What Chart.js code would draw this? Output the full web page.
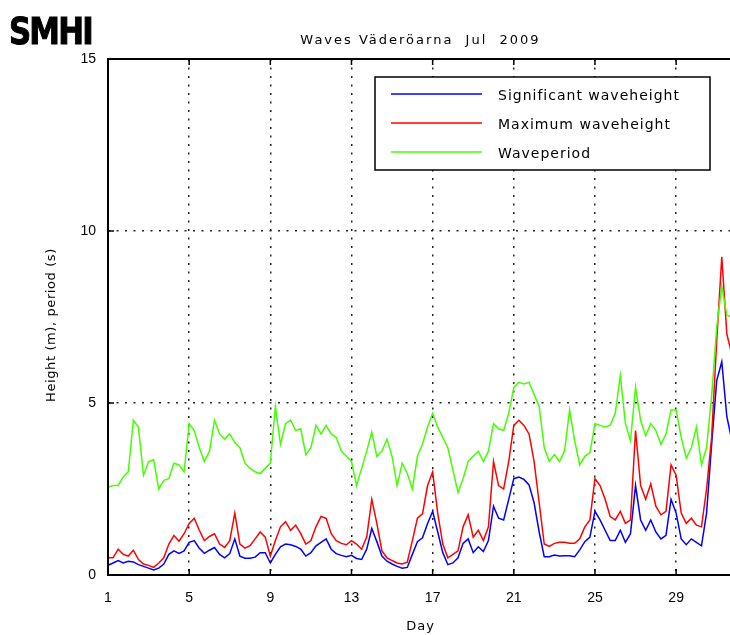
<!DOCTYPE html>
<html>
<head>
<meta charset="utf-8">
<script src="https://cdn.jsdelivr.net/npm/chart.js@4.4.0/dist/chart.umd.min.js"></script>
<style>
  html, body { margin: 0; padding: 0; background: #fff; overflow: hidden; width: 730px; height: 635px; }
  #wrap { position: relative; width: 760px; height: 635px; }
  #logo { position: absolute; left: 9px; top: 12px; font-family: "DejaVu Sans Condensed", "DejaVu Sans", sans-serif; font-weight: bold; font-size: 38px; line-height: 38px; letter-spacing: -2px; color: #000; transform: scaleX(0.9); transform-origin: left top; -webkit-text-stroke: 1px #000; }
</style>
</head>
<body>
<div id="wrap">
  <canvas id="wavesChart"></canvas>
  <div id="logo">SMHI</div>
</div>
<script>
// Titel och axlar
const chartTitle = "Waves Väderöarna  Jul  2009";
const xTitle = "Day";
const yTitle = "Height (m), period (s)";
const xTicks = [1, 5, 9, 13, 17, 21, 25, 29];
const yTicks = [0, 5, 10, 15];

// Tidpunkter (dag i juli), var 6:e timme
const days = Array.from({ length: 124 }, (_, i) => 1 + i * 0.25);

// Signifikant våghöjd (m)
const sigHeight = [
  0.28, 0.35, 0.42, 0.35, 0.40, 0.38, 0.30, 0.25, 0.20, 0.15, 0.20, 0.32,
  0.60, 0.70, 0.63, 0.70, 0.95, 1.00, 0.78, 0.63, 0.72, 0.80, 0.60, 0.50,
  0.62, 1.05, 0.55, 0.49, 0.49, 0.52, 0.65, 0.65, 0.35, 0.60, 0.82, 0.90,
  0.88, 0.83, 0.75, 0.55, 0.65, 0.85, 0.95, 1.05, 0.75, 0.62, 0.57, 0.53,
  0.57, 0.48, 0.45, 0.75, 1.35, 0.97, 0.55, 0.40, 0.32, 0.25, 0.20, 0.22,
  0.60, 0.97, 1.08, 1.50, 1.85, 1.25, 0.65, 0.30, 0.35, 0.50, 0.92, 1.05,
  0.65, 0.82, 0.68, 1.00, 2.00, 1.65, 1.60, 2.20, 2.80, 2.85, 2.78, 2.62,
  2.10, 1.25, 0.53, 0.53, 0.58, 0.55, 0.56, 0.56, 0.53, 0.73, 0.97, 1.10,
  1.85, 1.60, 1.30, 1.00, 1.00, 1.30, 0.95, 1.20, 2.60, 1.60, 1.30, 1.60,
  1.25, 1.05, 1.15, 2.20, 1.80, 1.05, 0.88, 1.05, 0.95, 0.85, 1.80, 3.80,
  5.65, 6.20, 4.60, 3.90
];

// Maximal våghöjd (m)
const maxHeight = [
  0.50, 0.50, 0.75, 0.60, 0.55, 0.72, 0.45, 0.32, 0.28, 0.22, 0.35, 0.50,
  0.90, 1.15, 0.98, 1.20, 1.50, 1.65, 1.30, 1.00, 1.12, 1.20, 0.90, 0.80,
  1.00, 1.80, 0.90, 0.78, 0.85, 1.05, 1.25, 1.10, 0.55, 1.00, 1.40, 1.55,
  1.30, 1.45, 1.20, 0.90, 1.00, 1.40, 1.70, 1.65, 1.20, 1.00, 0.92, 0.88,
  1.00, 0.90, 0.75, 1.10, 2.20, 1.50, 0.70, 0.50, 0.42, 0.35, 0.32, 0.37,
  1.00, 1.65, 1.78, 2.60, 3.00, 1.80, 0.90, 0.50, 0.60, 0.70, 1.40, 1.75,
  1.10, 1.30, 1.00, 1.40, 3.30, 2.60, 2.50, 3.30, 4.35, 4.50, 4.35, 4.10,
  3.30, 2.10, 0.90, 0.83, 0.92, 0.95, 0.95, 0.92, 0.92, 1.05, 1.40, 1.60,
  2.80, 2.60, 2.20, 1.70, 1.60, 1.85, 1.50, 1.60, 4.20, 2.60, 2.20, 2.65,
  2.00, 1.75, 1.85, 3.20, 2.90, 1.80, 1.50, 1.65, 1.45, 1.40, 2.50, 4.00,
  6.80, 9.25, 7.00, 6.40
];

// Vågperiod (s)
const wavePeriod = [
  2.55, 2.60, 2.60, 2.85, 3.00, 4.50, 4.30, 2.90, 3.30, 3.35, 2.50, 2.75,
  2.80, 3.25, 3.20, 3.00, 4.40, 4.20, 3.70, 3.30, 3.60, 4.50, 4.10, 3.95,
  4.10, 3.85, 3.70, 3.25, 3.10, 3.00, 2.95, 3.10, 3.25, 4.90, 3.80, 4.40,
  4.50, 4.20, 4.25, 3.50, 3.70, 4.35, 4.10, 4.35, 4.10, 4.00, 3.60, 3.45,
  3.30, 2.60, 3.10, 3.60, 4.15, 3.45, 3.60, 3.95, 3.45, 2.60, 3.25, 2.95,
  2.50, 3.45, 3.80, 4.30, 4.70, 4.30, 4.00, 3.70, 3.05, 2.40, 2.80, 3.30,
  3.45, 3.60, 3.30, 3.60, 4.40, 4.25, 4.20, 4.70, 5.45, 5.60, 5.55, 5.60,
  5.25, 4.90, 3.70, 3.30, 3.50, 3.30, 3.60, 4.80, 3.90, 3.20, 3.45, 3.55,
  4.40, 4.35, 4.30, 4.35, 4.70, 5.80, 4.40, 3.90, 5.45, 4.50, 4.05, 4.40,
  4.20, 3.80, 4.10, 4.80, 4.80, 4.00, 3.40, 3.70, 4.30, 3.20, 3.70, 5.20,
  7.20, 8.40, 7.55, 7.50
];

const seriesNames = ["Significant waveheight", "Maximum waveheight", "Waveperiod"];
const seriesColors = ["#0000ff", "#ff0000", "#44ff00"];

function toPoints(values) {
  return values.map((v, i) => ({ x: days[i], y: v }));
}

// Ram, inåtvända streck, förklaring och titlar
const framePlugin = {
  id: "framePlugin",
  afterDraw(chart) {
    const { ctx, chartArea: a, scales } = chart;
    const x = scales.x, y = scales.y;
    ctx.save();
    ctx.strokeStyle = "#000";
    ctx.lineWidth = 1.5;
    ctx.beginPath();
    xTicks.forEach(v => {
      const px = x.getPixelForValue(v);
      ctx.moveTo(px, a.bottom); ctx.lineTo(px, a.bottom - 6);
      ctx.moveTo(px, a.top); ctx.lineTo(px, a.top + 6);
    });
    yTicks.forEach(v => {
      const py = y.getPixelForValue(v);
      ctx.moveTo(a.left, py); ctx.lineTo(a.left + 6, py);
    });
    ctx.stroke();
    ctx.lineWidth = 2;
    ctx.strokeRect(a.left, a.top, a.right - a.left, a.bottom - a.top);

    // förklaring
    const lx = 375, ly = 77, lw = 335, lh = 93;
    ctx.fillStyle = "#fff";
    ctx.fillRect(lx, ly, lw, lh);
    ctx.lineWidth = 1.5;
    ctx.strokeRect(lx, ly, lw, lh);
    ctx.font = '14px "DejaVu Sans"';
    ctx.letterSpacing = "1px";
    ctx.textAlign = "left";
    ctx.textBaseline = "middle";
    seriesNames.forEach((name, i) => {
      const rowY = ly + 19 + i * 29;
      ctx.strokeStyle = seriesColors[i];
      ctx.beginPath();
      ctx.moveTo(lx + 16, rowY - 2); ctx.lineTo(lx + 107, rowY - 2);
      ctx.stroke();
      ctx.fillStyle = "#000";
      ctx.fillText(name, lx + 123, rowY);
    });

    // titlar
    ctx.fillStyle = "#000";
    ctx.textAlign = "center";
    ctx.font = '13px "DejaVu Sans"';
    ctx.letterSpacing = "2px";
    ctx.fillText(chartTitle, (a.left + a.right) / 2 - 2, 41);
    ctx.letterSpacing = "1px";
    ctx.fillText(xTitle, (a.left + a.right) / 2 - 2, 627);
    ctx.letterSpacing = "0.6px";
    ctx.translate(52, (a.top + a.bottom) / 2 + 8);
    ctx.rotate(-Math.PI / 2);
    ctx.fillText(yTitle, 0, 0);
    ctx.restore();
  }
};

new Chart(document.getElementById("wavesChart"), {
  type: "line",
  data: {
    datasets: [
      { label: seriesNames[0], data: toPoints(sigHeight), borderColor: seriesColors[0], order: 3 },
      { label: seriesNames[1], data: toPoints(maxHeight), borderColor: seriesColors[1], order: 2 },
      { label: seriesNames[2], data: toPoints(wavePeriod), borderColor: seriesColors[2], order: 1 }
    ]
  },
  options: {
    responsive: true,
    maintainAspectRatio: false,
    animation: false,
    parsing: false,
    layout: { padding: { top: 59, right: 23, left: 0, bottom: 0 } },
    elements: {
      line: { borderWidth: 1.5, tension: 0 },
      point: { radius: 0 }
    },
    plugins: {
      legend: { display: false },
      title: { display: false },
      tooltip: { enabled: false }
    },
    scales: {
      x: {
        type: "linear",
        min: 1,
        max: 32,
        afterBuildTicks: s => { s.ticks = xTicks.map(v => ({ value: v })); },
        afterFit: s => { s.height = 60; },
        grid: { color: "#222", lineWidth: 1.5, drawTicks: false },
        border: { display: false, dash: [2, 6.5] },
        ticks: { color: "#000", padding: 15, maxRotation: 0, font: { family: "Liberation Sans", size: 14 } }
      },
      y: {
        min: 0,
        max: 15,
        afterBuildTicks: s => { s.ticks = yTicks.map(v => ({ value: v })); },
        afterFit: s => { s.width = 108; },
        grid: { color: "#222", lineWidth: 1.5, drawTicks: false },
        border: { display: false, dash: [2, 6.5] },
        ticks: { color: "#000", padding: 12, font: { family: "Liberation Sans", size: 14 } }
      }
    }
  },
  plugins: [framePlugin]
});
</script>
</body>
</html>
